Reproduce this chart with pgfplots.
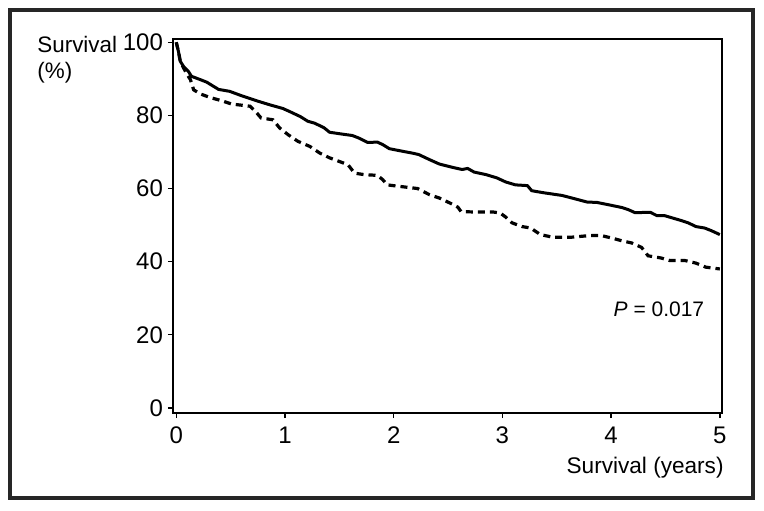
\documentclass[border=0pt]{standalone}
\usepackage{pgfplots}
\pgfplotsset{compat=1.18}
\usepackage{fontspec}
\setmainfont{Liberation Sans}
\begin{document}
\begin{tikzpicture}
\useasboundingbox (-86.5pt,-48.5pt) rectangle (295.5pt,206.5pt);
\fill[white] (-86.5pt,-48.5pt) rectangle (295.5pt,206.5pt);
\begin{axis}[
  at={(0pt,0pt)}, anchor=south west,
  scale only axis,
  width=274.5pt, height=187pt,
  xmin=-0.03, xmax=5.02,
  ymin=-1.4, ymax=100.9,
  xtick={0,1,2,3,4,5},
  ytick={0,20,40,60,80,100},
  tick align=outside,
  major tick length=2.5pt,
  xtick pos=bottom, ytick pos=left,
  axis line style={line width=0.7pt},
  every tick/.style={line width=0.7pt, black},
  /pgf/number format/assume math mode=true,
  tick label style={font=\fontsize{12}{14}\selectfont},
  yticklabel style={xshift=1pt},
  xticklabel style={yshift=-1pt},
  clip=false,
]
\addplot[black, line width=1.5pt, line join=round] coordinates {
(0,100) (0.02,97.5) (0.037,94.8) (0.067,93.4) (0.11,92.1) (0.14,90.7)
(0.22,89.8) (0.28,89.1) (0.34,88.0) (0.39,87.1) (0.49,86.6) (0.59,85.5)
(0.74,84.0) (0.86,82.9) (0.98,81.9) (1.04,81.1) (1.14,79.7) (1.21,78.4)
(1.27,77.9) (1.32,77.2) (1.36,76.6) (1.41,75.4) (1.50,75.0) (1.62,74.5)
(1.68,73.8) (1.76,72.6) (1.85,72.7) (1.90,72.0) (1.96,70.9) (2.08,70.2)
(2.17,69.7) (2.23,69.3) (2.33,67.9) (2.42,66.7) (2.54,65.8) (2.63,65.2)
(2.68,65.5) (2.74,64.5) (2.85,63.8) (2.95,62.9) (3.03,61.8) (3.12,61.0)
(3.23,60.8) (3.27,59.4) (3.39,58.8) (3.55,58.1) (3.64,57.4) (3.78,56.3)
(3.87,56.2) (3.97,55.6) (4.10,54.8) (4.16,54.2) (4.22,53.4) (4.36,53.5)
(4.42,52.6) (4.49,52.6) (4.57,51.9) (4.65,51.2) (4.71,50.6) (4.78,49.6)
(4.86,49.2) (4.92,48.5) (5.0,47.4)
};
\addplot[black, line width=1.6pt, dash pattern=on 3.5pt off 2.5pt] coordinates {
(0,100) (0.02,97.5) (0.037,94.8) (0.067,93.0) (0.10,91.2) (0.13,89.8)
(0.16,87.0) (0.22,85.9) (0.31,84.9) (0.42,84.0) (0.51,83.1) (0.63,82.7)
(0.68,82.5) (0.74,80.7) (0.78,79.3) (0.89,78.8) (0.95,76.6) (1.03,74.7)
(1.12,72.9) (1.23,71.5) (1.32,69.7) (1.41,68.4) (1.50,67.4) (1.58,66.5)
(1.64,64.2) (1.73,63.8) (1.85,63.6) (1.90,62.4) (1.94,61.0) (2.05,60.6)
(2.22,60.0) (2.33,58.3) (2.42,57.4) (2.52,56.0) (2.59,54.9) (2.62,53.7)
(2.72,53.6) (2.91,53.6) (2.98,53.3) (3.03,52.2) (3.09,50.6) (3.18,49.6)
(3.26,49.2) (3.35,47.4) (3.46,46.7) (3.64,46.7) (3.79,47.1) (3.90,47.2)
(4.00,46.5) (4.10,45.7) (4.19,45.1) (4.28,43.9) (4.34,41.6) (4.46,41.0)
(4.54,40.3) (4.68,40.3) (4.78,39.6) (4.87,38.5) (5.0,38.0)
};
\node[anchor=base west, inner sep=0pt, font=\fontsize{10.5}{12}\selectfont] at (axis cs:4.02,24.9) {\textit{P} = 0.017};
\end{axis}
\draw[line width=1.6pt, black!85] (-81.5pt,-42.5pt) rectangle (290pt,201.5pt);
\node[anchor=base west, inner sep=0pt, font=\fontsize{11.2}{13}\selectfont] at (-68pt,180.5pt) {Survival};
\node[anchor=base west, inner sep=0pt, font=\fontsize{11.2}{13}\selectfont] at (-68pt,167.5pt) {(\%)};
\node[anchor=base east, inner sep=0pt, font=\fontsize{11.3}{13}\selectfont] at (275.5pt,-30pt) {Survival (years)};
\end{tikzpicture}
\end{document}
